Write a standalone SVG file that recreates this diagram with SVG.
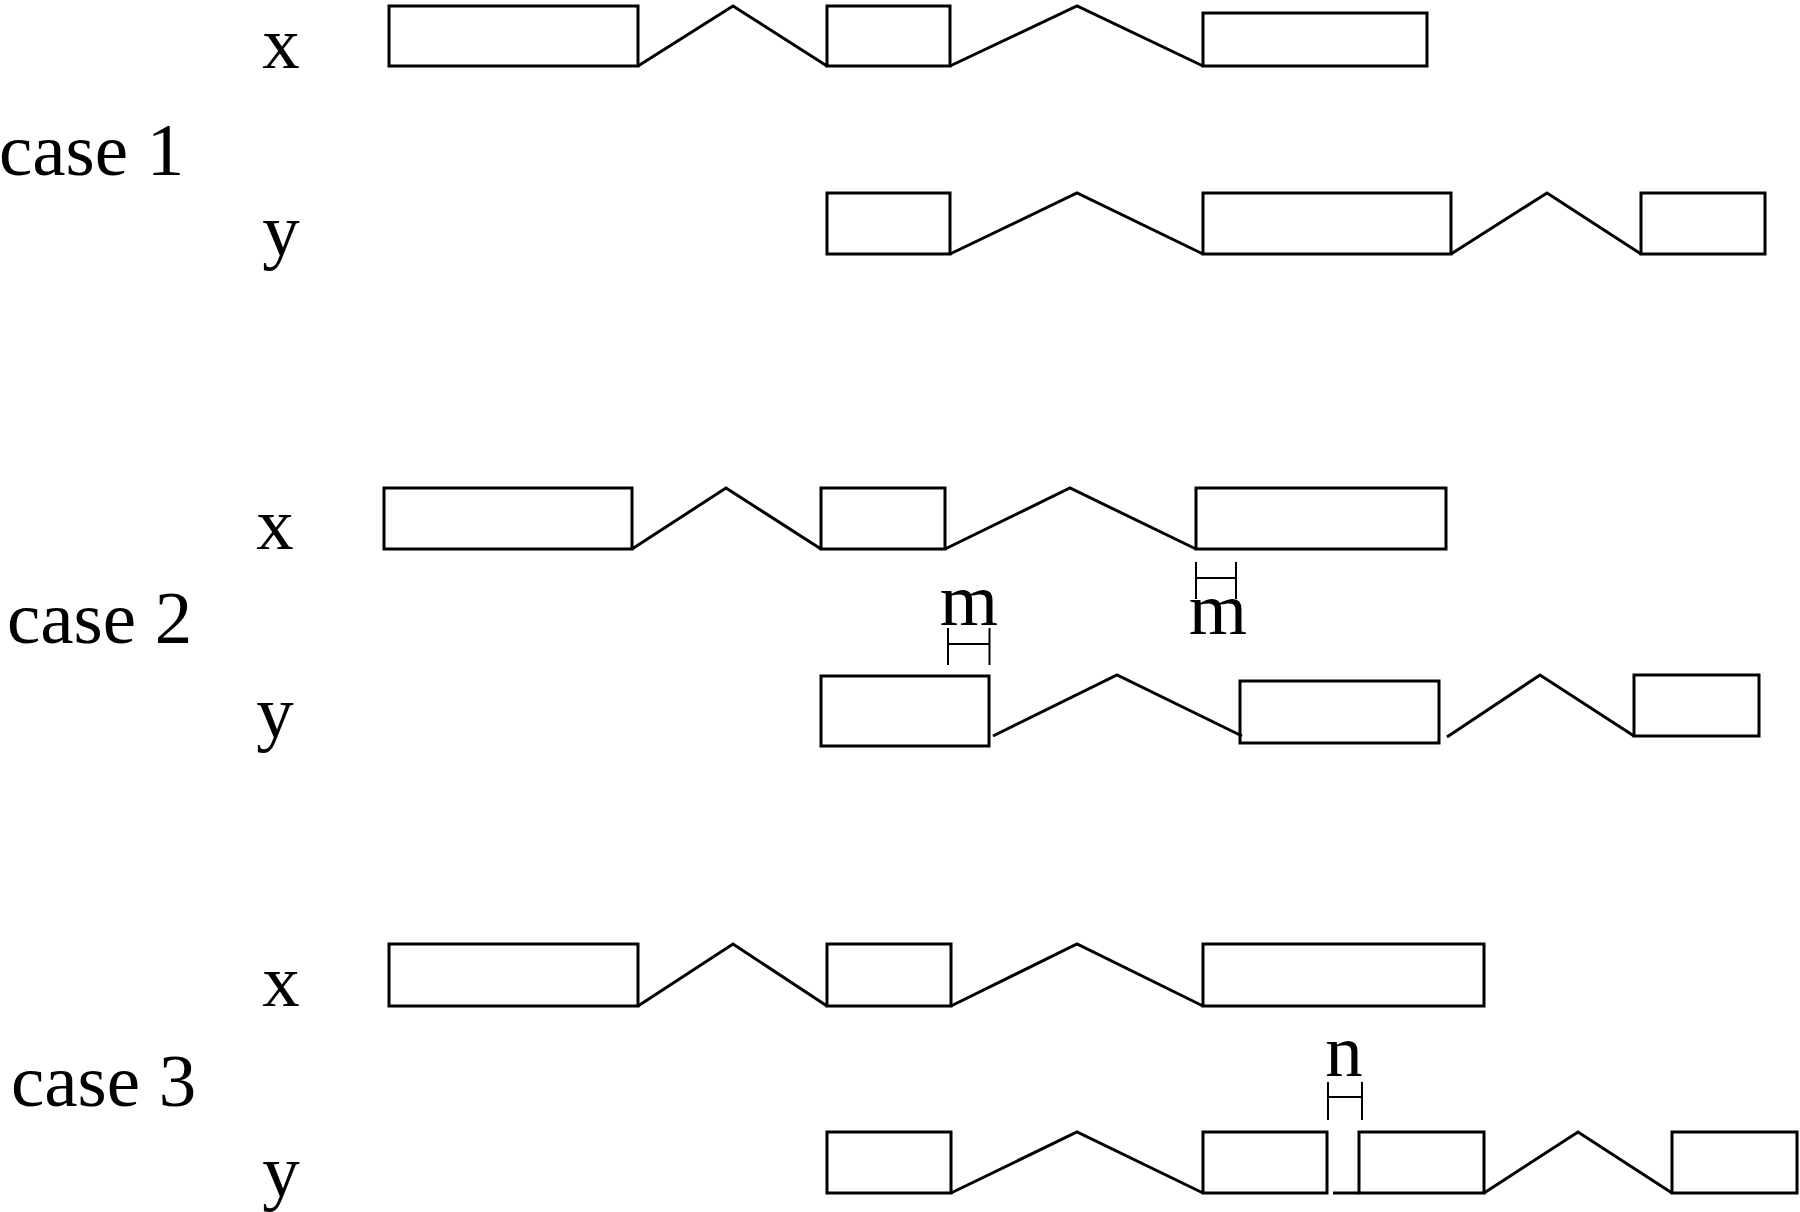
<svg xmlns="http://www.w3.org/2000/svg" width="1800" height="1212" viewBox="0 0 1800 1212">
<style>
.ex{fill:#fff;stroke:#000;stroke-width:3}
.in{fill:none;stroke:#000;stroke-width:3;stroke-linejoin:miter}
.br{fill:none;stroke:#000;stroke-width:2}
.t{font-family:"Liberation Serif","Times New Roman",serif;font-size:75px;fill:#000}
.c{text-anchor:middle}
</style>
<rect width="1800" height="1212" fill="#fff"/>
<g id="labels">
<text class="t" x="-1" y="175">case 1</text>
<text class="t" x="7" y="643">case 2</text>
<text class="t" x="11" y="1106">case 3</text>
<text class="t c" x="281" y="68">x</text>
<text class="t c" x="281" y="255">y</text>
<text class="t c" x="275" y="549">x</text>
<text class="t c" x="275" y="737">y</text>
<text class="t c" x="281" y="1006">x</text>
<text class="t c" x="281" y="1196">y</text>
</g>
<g id="c1x">
<g id="c1x-e1"><rect class="ex" x="389" y="6" width="249" height="60"/></g>
<g id="c1x-e2"><rect class="ex" x="827" y="6" width="123" height="60"/></g>
<g id="c1x-e3"><rect class="ex" x="1203" y="13" width="224" height="53"/></g>
</g>
<g id="c1y">
<g id="c1y-e1"><rect class="ex" x="827" y="193" width="123" height="61"/></g>
<g id="c1y-e2"><rect class="ex" x="1203" y="193" width="248" height="61"/></g>
<g id="c1y-e3"><rect class="ex" x="1641" y="193" width="124" height="61"/></g>
</g>
<g id="c2x">
<g id="c2x-e1"><rect class="ex" x="384" y="488" width="248" height="61"/></g>
<g id="c2x-e2"><rect class="ex" x="821" y="488" width="124" height="61"/></g>
<g id="c2x-e3"><rect class="ex" x="1196" y="488" width="250" height="61"/></g>
</g>
<g id="c2y">
<g id="c2y-e1"><rect class="ex" x="821" y="676" width="168" height="70"/></g>
<g id="c2y-e2"><rect class="ex" x="1240" y="681" width="199" height="62"/></g>
<g id="c2y-e3"><rect class="ex" x="1634" y="675" width="125" height="61"/></g>
</g>
<g id="c3x">
<g id="c3x-e1"><rect class="ex" x="389" y="944" width="249" height="62"/></g>
<g id="c3x-e2"><rect class="ex" x="827" y="944" width="124" height="62"/></g>
<g id="c3x-e3"><rect class="ex" x="1203" y="944" width="281" height="62"/></g>
</g>
<g id="c3y">
<g id="c3y-e1"><rect class="ex" x="827" y="1132" width="124" height="61"/></g>
<g id="c3y-e2"><rect class="ex" x="1203" y="1132" width="124" height="61"/></g>
<g id="c3y-e3"><rect class="ex" x="1359" y="1132" width="125" height="61"/></g>
<g id="c3y-e4"><rect class="ex" x="1672" y="1132" width="125" height="61"/></g>
</g>
<g id="measures">
<g id="m1">
<path class="br" d="M948 628V665M989.5 628V665M948 644H989.5"/>
<text class="t c" x="969" y="625">m</text>
</g>
<g id="m2">
<path class="br" d="M1196 562V599M1236 562V599M1196 578H1236"/>
<text class="t c" x="1218" y="634">m</text>
</g>
<g id="n1">
<path class="br" d="M1328 1082V1120M1362 1082V1120M1328 1097H1362"/>
<text class="t c" x="1344" y="1076">n</text>
</g>
</g>
<g id="connectors">
<polyline class="in" points="638,66 733,6 827,66"/>
<polyline class="in" points="950,66 1077,6 1203,66"/>
<polyline class="in" points="950,254 1077,193 1203,254"/>
<polyline class="in" points="1451,254 1547,193 1641,254"/>
<polyline class="in" points="632,549 726,488 821,549"/>
<polyline class="in" points="945,549 1070,488 1196,549"/>
<polyline class="in" points="993,736 1117,675 1242,736"/>
<polyline class="in" points="1447,737 1540,675 1634,736"/>
<polyline class="in" points="638,1006 733,944 827,1006"/>
<polyline class="in" points="951,1006 1077,944 1203,1006"/>
<polyline class="in" points="951,1193 1077,1132 1203,1193"/>
<line class="in" x1="1333" y1="1193" x2="1359" y2="1193"/>
<polyline class="in" points="1484,1193 1578,1132 1672,1193"/>
</g>
</svg>
